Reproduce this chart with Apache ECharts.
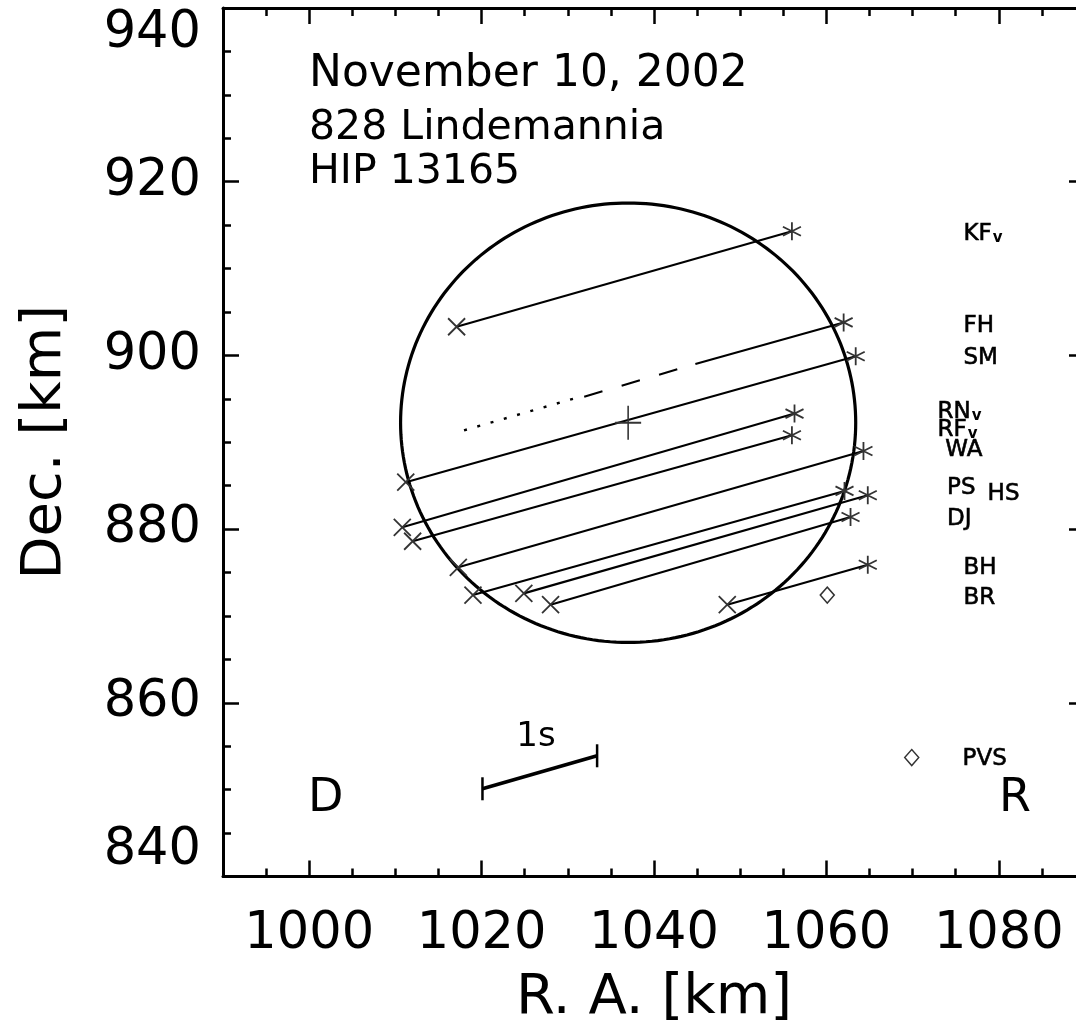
<!DOCTYPE html>
<html><head><meta charset="utf-8">
<style>html,body{margin:0;padding:0;background:#fff}#c{width:1076px;height:1035px}</style>
<script src="https://cdn.jsdelivr.net/npm/echarts@6/dist/echarts.min.js"></script>
</head><body><div id="c"></div>
<script>
// ---------------- data ----------------
const xMajorTicks = [1000, 1020, 1040, 1060, 1080];
const yMajorTicks = [840, 860, 880, 900, 920, 940];

const chordStations = ['KF', 'SM', 'RN', 'RF', 'WA', 'PS', 'HS', 'DJ', 'BH'];
const disappearRA  = [1017.1, 1011.2, 1010.8, 1012.0, 1017.3, 1019.0, 1024.9, 1028.0, 1048.5];
const disappearDec = [903.3, 885.4, 880.2, 878.6, 875.6, 872.4, 872.6, 871.3, 871.3];
const reappearRA   = [1056.0, 1063.4, 1056.3, 1056.0, 1064.3, 1062.1, 1064.8, 1062.8, 1064.8];
const reappearDec  = [914.3, 899.9, 893.3, 890.8, 889.0, 884.4, 883.9, 881.4, 875.9];

// FH: partial chord (solid, then dashed, then dotted)
const fhReappear  = [1062.0, 903.8];
const fhSolidEnd  = [1044.8, 899.0];
const fhDashStart = [1042.7, 898.4];
const fhDashEnd   = [1031.4, 895.1];
const fhDotStart  = [1030.6, 895.0];
const fhDotEnd    = [1017.7, 891.3];

// single timings (diamonds)
const pointNames = ['BR', 'PVS'];
const pointRA  = [1060.1, 1069.9];
const pointDec = [872.4, 853.7];

// fitted profile
const profileCenter = [1037.0, 892.25];
const profileRadii  = [26.4, 25.3];

// 1 s scale bar
const scaleBarStart = [1020.1, 850.1];
const scaleBarEnd   = [1033.4, 853.9];

// station labels
const labelNames = ['KF', 'FH', 'SM', 'RN', 'RF', 'WA', 'PS', 'HS', 'DJ', 'BH', 'BR', 'PVS'];
const labelSubs  = ['v', '', '', 'v', 'v', '', '', '', '', '', '', ''];
const labelRA    = [1075.9, 1075.9, 1075.9, 1072.9, 1072.9, 1073.8, 1074.0, 1078.7, 1074.0, 1075.9, 1075.9, 1075.8];
const labelDec   = [914.1, 903.6, 899.9, 893.7, 891.6, 889.3, 884.9, 884.2, 881.3, 875.7, 872.2, 853.7];

const headerLines = ['November 10, 2002', '828 Lindemannia', 'HIP 13165'];

// ---------------- chart ----------------
const FONT = 'DejaVu Sans';
const chart = echarts.init(document.getElementById('c'), null, {renderer: 'canvas'});

const axisLineStyle = {color: '#000', width: 3};
const tickLine = {color: '#000', width: 2.5};
const xBase = {type: 'value', min: 990, max: 1090, interval: 5, gridIndex: 0, splitLine: {show: false}};
const yBase = {type: 'value', min: 840, max: 940, interval: 20, gridIndex: 0, splitLine: {show: false}};

const X_PATH = 'path://M0,0L10,10M10,0L0,10';
const STAR_PATH = 'path://M5,0L5,10M0.67,2.5L9.33,7.5M0.67,7.5L9.33,2.5';
const PLUS_PATH = 'path://M5,0L5,10M0,5L10,5';

const markerStyle = {color: 'none', borderColor: '#333', borderWidth: 1.8, opacity: 1};
const plainNumber = v => String(v);

function seg(a, b) { return {coords: [a, b]}; }

const option = {
  animation: false,
  backgroundColor: '#fff',
  grid: {left: 223, top: 8, width: 862, height: 868.5, containLabel: false, outerBoundsMode: 'none'},
  xAxis: [
    Object.assign({}, xBase, {
      position: 'bottom',
      axisLine: {show: true, onZero: false, lineStyle: axisLineStyle},
      axisTick: {show: true, inside: true, length: 16, customValues: xMajorTicks, lineStyle: tickLine},
      axisLabel: {show: true, customValues: xMajorTicks, formatter: plainNumber, margin: 33, fontSize: 51, fontFamily: FONT, color: '#000'},
      name: 'R. A. [km]', nameLocation: 'middle', nameGap: 94,
      nameTextStyle: {fontSize: 56, fontFamily: FONT, color: '#000'}
    }),
    Object.assign({}, xBase, {
      position: 'bottom',
      axisLine: {show: false, onZero: false},
      axisTick: {show: true, inside: true, length: 8, lineStyle: tickLine},
      axisLabel: {show: false}
    }),
    Object.assign({}, xBase, {
      position: 'top',
      axisLine: {show: true, onZero: false, lineStyle: axisLineStyle},
      axisTick: {show: true, inside: true, length: 16, customValues: xMajorTicks, lineStyle: tickLine},
      axisLabel: {show: false}
    }),
    Object.assign({}, xBase, {
      position: 'top',
      axisLine: {show: false, onZero: false},
      axisTick: {show: true, inside: true, length: 8, lineStyle: tickLine},
      axisLabel: {show: false}
    })
  ],
  yAxis: [
    Object.assign({}, yBase, {
      position: 'left',
      axisLine: {show: true, onZero: false, lineStyle: axisLineStyle},
      axisTick: {show: true, inside: true, length: 16, lineStyle: tickLine},
      minorTick: {show: true, splitNumber: 4, length: 8, lineStyle: tickLine},
      axisLabel: {show: true, formatter: plainNumber, margin: 22, fontSize: 51, fontFamily: FONT, color: '#000',
                  verticalAlignMinLabel: 'bottom', verticalAlignMaxLabel: 'top'},
      name: 'Dec. [km]', nameLocation: 'middle', nameGap: 150, nameRotate: 90,
      nameTextStyle: {fontSize: 56, fontFamily: FONT, color: '#000'}
    }),
    Object.assign({}, yBase, {
      position: 'right',
      axisLine: {show: true, onZero: false, lineStyle: axisLineStyle},
      axisTick: {show: true, inside: true, length: 16, lineStyle: tickLine},
      minorTick: {show: true, splitNumber: 4, length: 8, lineStyle: tickLine},
      axisLabel: {show: false}
    })
  ],
  graphic: [
    {type: 'text', x: 309, y: 75, style: {text: headerLines[0], fontSize: 44, fontFamily: FONT, fill: '#000', verticalAlign: 'middle', align: 'left'}},
    {type: 'text', x: 309, y: 128, style: {text: headerLines[1], fontSize: 41, fontFamily: FONT, fill: '#000', verticalAlign: 'middle', align: 'left'}},
    {type: 'text', x: 309, y: 172, style: {text: headerLines[2], fontSize: 41, fontFamily: FONT, fill: '#000', verticalAlign: 'middle', align: 'left'}},
    {type: 'text', x: 536, y: 737, style: {text: '1s', fontSize: 34, fontFamily: FONT, fill: '#000', verticalAlign: 'middle', align: 'center'}},
    {type: 'text', x: 308, y: 799, style: {text: 'D', fontSize: 46, fontFamily: FONT, fill: '#000', verticalAlign: 'middle', align: 'left'}},
    {type: 'text', x: 999, y: 799, style: {text: 'R', fontSize: 46, fontFamily: FONT, fill: '#000', verticalAlign: 'middle', align: 'left'}}
  ],
  series: [
    {
      type: 'custom', name: 'profile', clip: false, z: 3,
      data: [[profileCenter[0], profileCenter[1], profileRadii[0], profileRadii[1]]],
      renderItem: function (params, api) {
        const cx = api.value(0), cy = api.value(1), rx = api.value(2), ry = api.value(3);
        const pts = [];
        for (let i = 0; i <= 240; i++) {
          const t = 2 * Math.PI * i / 240;
          pts.push(api.coord([cx + rx * Math.cos(t), cy + ry * Math.sin(t)]));
        }
        return {type: 'polyline', shape: {points: pts}, style: {stroke: '#000', lineWidth: 3.2, fill: null}};
      }
    },
    {
      type: 'lines', coordinateSystem: 'cartesian2d', z: 4,
      lineStyle: {color: '#000', width: 2.1, opacity: 1, curveness: 0},
      data: chordStations.map((s, i) => seg([disappearRA[i], disappearDec[i]], [reappearRA[i], reappearDec[i]]))
    },
    {
      type: 'lines', coordinateSystem: 'cartesian2d', z: 4,
      lineStyle: {color: '#000', width: 2.1, opacity: 1},
      data: [seg(fhReappear, fhSolidEnd)]
    },
    {
      type: 'lines', coordinateSystem: 'cartesian2d', z: 4,
      lineStyle: {color: '#000', width: 2.1, opacity: 1, type: [19, 20]},
      data: [seg(fhDashStart, fhDashEnd)]
    },
    {
      type: 'lines', coordinateSystem: 'cartesian2d', z: 4,
      lineStyle: {color: '#000', width: 2.4, opacity: 1, type: [3, 10.8]},
      data: [seg(fhDotStart, fhDotEnd)]
    },
    {
      type: 'scatter', z: 5, symbol: X_PATH, symbolSize: 17, symbolKeepAspect: false,
      itemStyle: markerStyle,
      data: disappearRA.map((x, i) => [x, disappearDec[i]])
    },
    {
      type: 'scatter', z: 5, symbol: STAR_PATH, symbolSize: 18,
      itemStyle: markerStyle,
      data: reappearRA.map((x, i) => [x, reappearDec[i]]).concat([fhReappear])
    },
    {
      type: 'scatter', z: 5, symbol: 'diamond', symbolSize: [14, 16],
      itemStyle: {color: '#fff', borderColor: '#333', borderWidth: 1.5, opacity: 1},
      data: pointRA.map((x, i) => ({name: pointNames[i], value: [x, pointDec[i]]}))
    },
    {
      type: 'scatter', z: 5, symbol: PLUS_PATH, symbolSize: [26, 34], symbolKeepAspect: false,
      itemStyle: markerStyle,
      data: [profileCenter]
    },
    {
      type: 'line', z: 5, symbol: 'rect', symbolSize: [2.5, 23], showSymbol: true,
      itemStyle: {color: '#000'},
      lineStyle: {color: '#000', width: 3.6},
      data: [scaleBarStart, scaleBarEnd]
    },
    {
      type: 'scatter', z: 6, symbolSize: 0, silent: true,
      itemStyle: {opacity: 1},
      data: labelNames.map((n, i) => ({name: n, value: [labelRA[i], labelDec[i]]})),
      label: {
        show: true, position: 'right', distance: 0, opacity: 1,
        formatter: function (p) {
          const sub = labelSubs[p.dataIndex];
          return '{m|' + p.name + '}' + (sub ? '{s|' + sub + '}' : '');
        },
        rich: {
          m: {fontSize: 23, fontFamily: FONT, color: '#000', verticalAlign: 'bottom', lineHeight: 26,
              textBorderColor: '#000', textBorderWidth: 0.6},
          s: {fontSize: 15, fontFamily: FONT, color: '#000', fontWeight: 'bold', verticalAlign: 'bottom', lineHeight: 16, padding: [12, 0, 0, 1]}
        }
      }
    }
  ]
};
chart.setOption(option);
</script>
</body></html>
